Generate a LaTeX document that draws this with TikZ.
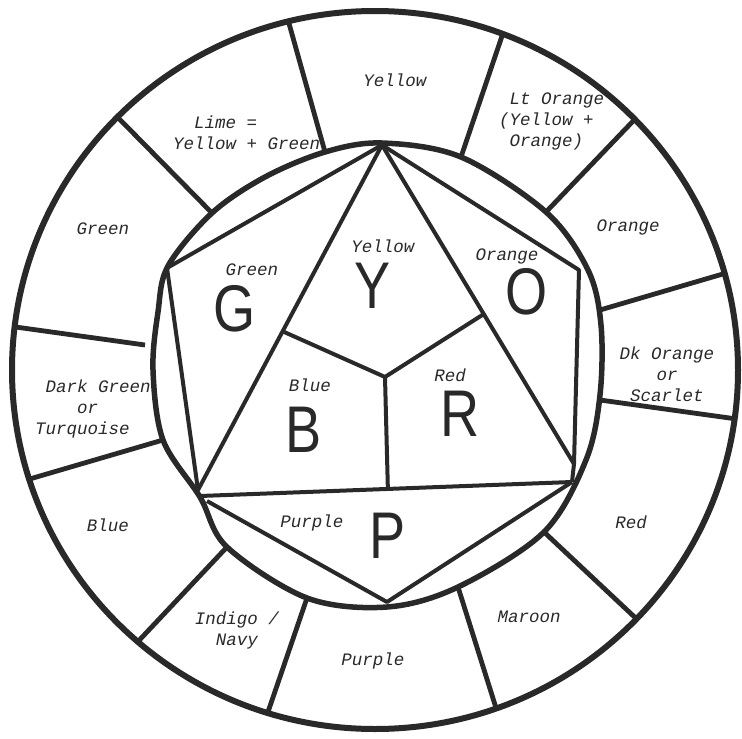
\documentclass[tikz,border=0pt]{standalone}
\usepackage{fontspec}
\setmainfont{Liberation Mono}
\newfontfamily\handfont{Liberation Sans}
\usetikzlibrary{calc}
\definecolor{ink}{gray}{0.16}
\begin{document}
\begin{tikzpicture}[x=1pt,y=-1pt,
  ring/.style={draw=ink,line width=6pt},
  innerring/.style={draw=ink,line width=5.5pt},
  divider/.style={draw=ink,line width=4.8pt},
  edge/.style={draw=ink,line width=4pt,line join=round},
  lbl/.style={font=\fontsize{17.5}{21}\selectfont\itshape,text=ink,inner sep=0pt,align=center},
  big/.style={font=\handfont\fontsize{66}{66}\selectfont,text=ink,inner sep=0pt}]
\useasboundingbox (0,0) rectangle (742,739);

% outer circle
\coordinate (O) at (375,370);
\draw[ring] (O) ellipse [x radius=363, y radius=359];

% inner (hand drawn) circle
\draw[innerring] plot[smooth cycle, tension=0.55] coordinates {
  (382,143) (461,157) (546,212) (588,270) (601,325) (600,395) (586,460)
  (544,532) (458,587) (387,607) (307,598) (227,547) (200,497) (163,440)
  (153,370) (158,312) (168,266) (212,213) (265,177) (325,152)};

% ring dividers
\draw[divider] (212,213) -- ($(O)+(224.8:363 and 359)$);
\draw[divider] (325,152) -- ($(O)+(256.2:363 and 359)$);
\draw[divider] (461,157) -- ($(O)+(290.6:363 and 359)$);
\draw[divider] (546,212) -- ($(O)+(315.7:363 and 359)$);
\draw[divider] (600,310) -- ($(O)+(344.4:363 and 359)$);
\draw[divider] (600,400) -- ($(O)+(7.8:363 and 359)$);
\draw[divider] (544,532) -- ($(O)+(43.9:363 and 359)$);
\draw[divider] (458,587) -- ($(O)+(70.5:363 and 359)$);
\draw[divider] (307,598) -- ($(O)+(107.2:363 and 359)$);
\draw[divider] (227,547) -- ($(O)+(130.8:363 and 359)$);
\draw[divider] (163,440) -- ($(O)+(162.3:363 and 359)$);
\draw[divider] (145,345) -- ($(O)+(186.9:363 and 359)$);

% inner figure
\coordinate (T) at (382,145);
\coordinate (UL) at (167,268);
\coordinate (UR) at (579,270);
\coordinate (LL) at (198,490);
\coordinate (LLb) at (207,501);
\coordinate (BL) at (200,496);
\coordinate (LRa) at (574,464);
\coordinate (LRb) at (572,482);
\coordinate (Bt) at (387,602);
\coordinate (C) at (385,377);
\coordinate (Ml) at ($(T)!0.54!(LL)$);
\coordinate (Mr) at ($(T)!0.53!(LRa)$);
\coordinate (Mb) at ($(BL)!0.505!(LRb)$);

\draw[edge] (LL) -- (UL) -- (T) -- (UR) -- (LRa) -- (LRb);
\draw[edge] (LL) -- (T) -- (LRa);
\draw[edge] (BL) -- (LRb);
\draw[edge] (LLb) -- (Bt) -- (LRb);
\draw[edge] (Ml) -- (C) -- (Mr);
\draw[edge] (C) -- (Mb);

% ring labels
\node[lbl] (rGreen) at (103,229) {Green};
\node[lbl,anchor=west,align=left] (rLime) at (173,133) {\hspace*{1.2em}Lime =\\Yellow + Green};
\node[lbl] (rYellow) at (395,80) {Yellow};
\node[lbl,anchor=west,align=left] (rLtOrange) at (499,121) {\hspace*{0.6em}Lt Orange\\(Yellow +\\\hspace*{0.6em}Orange)};
\node[lbl] (rOrange) at (628,227) {Orange};
\node[lbl] (rDkOrange) at (667,374) {Dk Orange\\or\\Scarlet};
\node[lbl] (rRed) at (631,522) {Red};
\node[lbl] (rMaroon) at (529,617) {Maroon};
\node[lbl] (rPurple) at (373,661) {Purple};
\node[lbl] (rIndigo) at (237,630) {Indigo /\\Navy};
\node[lbl] (rBlue) at (108,525) {Blue};
\node[lbl,anchor=west,align=left] (rDkGreen) at (35,409) {\hspace*{0.6em}Dark Green\\\hspace*{2.4em}or\\Turquoise};

% inner labels
\node[lbl] (iGreen) at (252,270) {Green};
\node[lbl] (iYellow) at (383,246) {Yellow};
\node[lbl] (iOrange) at (507,256) {Orange};
\node[lbl] (iBlue) at (310,385) {Blue};
\node[lbl] (iRed) at (450,375) {Red};
\node[lbl] (iPurple) at (312,523) {Purple};

% big letters
\node[big] (bigG) at (235,309) {\scalebox{0.82}[1]{G}};
\node[big] (bigY) at (373,286) {\scalebox{0.82}[1]{Y}};
\node[big] (bigO) at (527,292) {\scalebox{0.82}[1]{O}};
\node[big] (bigB) at (304,430) {\scalebox{0.82}[1]{B}};
\node[big] (bigR) at (460,414) {\scalebox{0.82}[1]{R}};
\node[big] (bigP) at (388,536) {\scalebox{0.82}[1]{P}};
\end{tikzpicture}
\end{document}
